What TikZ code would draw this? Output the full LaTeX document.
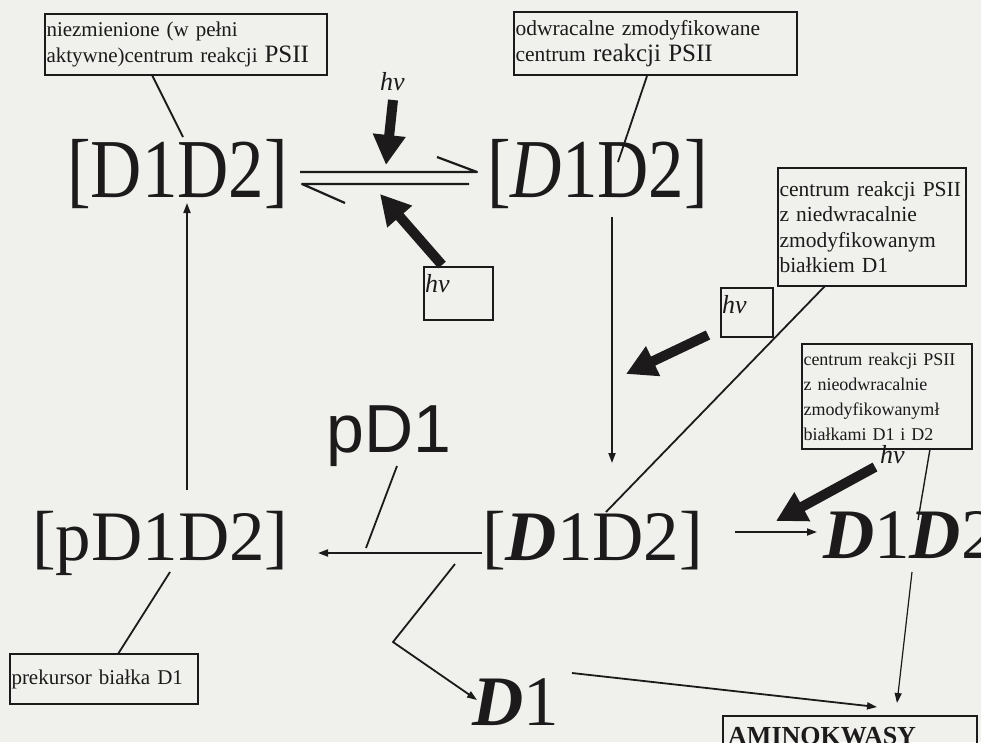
\documentclass[tikz,border=0pt]{standalone}
\usepackage{fontspec}
\setmainfont{Liberation Serif}
\newfontfamily\sansf{Liberation Sans}
\usetikzlibrary{arrows.meta}
\definecolor{paper}{RGB}{240,240,237}
\definecolor{ink}{RGB}{28,26,26}
\newcommand{\bigf}{\fontsize{71}{71}\selectfont}
\newcommand{\bi}[1]{\textbf{\textit{#1}}}
\begin{document}
\begin{tikzpicture}[x=1pt,y=-1pt,
  thinline/.style={draw=ink, line width=1.8pt, line join=round},
  thinarrow/.style={thinline, -{Triangle[length=10pt,width=7pt]}},
  fatarrow/.style={draw=ink, line width=10pt, -{Triangle[length=30pt,width=31pt]}},
  framebox/.style={draw=ink, line width=1.8pt, inner xsep=1pt, inner ysep=0pt, align=left, text=ink},
  formula/.style={anchor=base west, inner sep=0pt, text=ink},
  hvlabel/.style={anchor=base west, inner sep=0pt, text=ink, font=\fontsize{26}{26}\selectfont\itshape}
]
\useasboundingbox[fill=paper] (0,0) rectangle (981,742);

% ---------- label boxes ----------
\node[framebox, minimum width=282pt, minimum height=61pt, text width=279pt,
      font=\fontsize{21}{26}\selectfont] (b1) at (186,44.5)
  {niezmienione (w pełni\\aktywne)centrum reakcji {\fontsize{25}{26}\selectfont PSII}};
\node[framebox, minimum width=283pt, minimum height=63pt, text width=280pt,
      font=\fontsize{21.5}{26}\selectfont] (b2) at (655.5,43.5)
  {odwracalne zmodyfikowane\\centrum {\fontsize{25}{26}\selectfont reakcji PSII}};
\node[framebox, minimum width=188pt, minimum height=118pt, text width=185pt,
      font=\fontsize{21.5}{25.5}\selectfont] (b3) at (872,227)
  {centrum reakcji PSII\\z niedwracalnie\\zmodyfikowanym\\białkiem D1};
\node[framebox, minimum width=170pt, minimum height=105pt, text width=167pt,
      font=\fontsize{18}{25}\selectfont] (b4) at (887,396.5)
  {centrum reakcji PSII\\z nieodwracalnie\\zmodyfikowanymł\\białkami D1 i D2};
\node[framebox, minimum width=188pt, minimum height=50pt, text width=185pt,
      font=\fontsize{21}{25}\selectfont] (b5) at (104,679)
  {prekursor białka D1};
\node[draw=ink, line width=1.8pt, minimum width=254pt, minimum height=50pt, inner sep=0pt] (b6) at (850,741) {};
\node[formula, font=\fontsize{26}{26}\selectfont\bfseries] (amino) at (728,744) {AMINOKWASY};

% hv boxes
\node[draw=ink, line width=1.6pt, minimum width=69pt, minimum height=53pt, inner sep=0pt] (hvb1) at (458.5,293.5) {};
\node[hvlabel] (hv2) at (425,292) {hv};
\node[draw=ink, line width=1.6pt, minimum width=52pt, minimum height=49pt, inner sep=0pt] (hvb2) at (747,312.5) {};
\node[hvlabel] (hv3) at (722,313) {hv};
\node[hvlabel] (hv1) at (380,90) {hv};
\node[hvlabel] (hv4) at (880,463) {hv};

% ---------- formulas ----------
\node[formula, font=\bigf] (f1) at (67,197) {\scalebox{1}[1.18]{[D1D2]}};
\node[formula, font=\bigf] (f2) at (487,197) {\scalebox{1}[1.18]{[\textit{D}1D2]}};
\node[formula, font=\fontsize{68}{68}\selectfont\sansf] (pd1) at (326,452) {pD1};
\node[formula, font=\bigf] (f3) at (32,560) {[pD1D2]};
\node[formula, font=\bigf] (f4) at (482,560) {[\bi{D}1D2]};
\node[formula, font=\bigf] (f5) at (823,558) {\bi{D}1\bi{D}2};
\node[formula, font=\bigf] (f6) at (472,725) {\bi{D}1};

% ---------- connector end points ----------
\coordinate (c1a) at (152,75);   \coordinate (c1b) at (183,137);
\coordinate (c2a) at (647,76);   \coordinate (c2b) at (618,162);
\coordinate (c3a) at (825,286);  \coordinate (c3b) at (606,512);
\coordinate (c4a) at (930,449);  \coordinate (c4b) at (918,520);
\coordinate (c5a) at (118,654);  \coordinate (c5b) at (170,572);
\coordinate (eqa) at (300,172);  \coordinate (eqb) at (477,172); \coordinate (eqc) at (437,157);
\coordinate (eqd) at (469,184);  \coordinate (eqe) at (302,184); \coordinate (eqf) at (345,203);
\coordinate (v1a) at (187,490);  \coordinate (v1b) at (187,203);
\coordinate (v2a) at (612,217);  \coordinate (v2b) at (612,463);
\coordinate (h1a) at (482,553);  \coordinate (h1b) at (318,553);
\coordinate (p1a) at (397,466);  \coordinate (p1b) at (366,548);
\coordinate (k1a) at (455,564);  \coordinate (k1b) at (393,642); \coordinate (k1c) at (477,700);
\coordinate (d1a) at (572,673);  \coordinate (d1b) at (877,707);
\coordinate (d2a) at (912,572);  \coordinate (d2b) at (897,703);
\coordinate (r1a) at (735,532);  \coordinate (r1b) at (817,532);
\coordinate (fa1) at (393,100);  \coordinate (fb1) at (386,165);
\coordinate (fa2) at (442,265);  \coordinate (fb2) at (380,194);
\coordinate (fa3) at (708,335);  \coordinate (fb3) at (626,374);
\coordinate (fa4) at (875,467);  \coordinate (fb4) at (776,521);

% ---------- leader lines ----------
\draw[thinline] (c1a) -- (c1b);
\draw[thinline] (c2a) -- (c2b);
\draw[thinline] (c3a) -- (c3b);
\draw[thinline, line width=1.4pt] (c4a) -- (c4b);
\draw[thinline] (c5a) -- (c5b);
\draw[thinline] (p1a) -- (p1b);

% ---------- equilibrium ----------
\draw[thinline, line width=2.2pt] (eqa) -- (eqb) -- (eqc);
\draw[thinline, line width=2.2pt] (eqd) -- (eqe) -- (eqf);

% ---------- reaction arrows ----------
\draw[thinarrow] (v1a) -- (v1b);
\draw[thinarrow] (v2a) -- (v2b);
\draw[thinarrow] (h1a) -- (h1b);
\draw[thinarrow] (k1a) -- (k1b) -- (k1c);
\draw[thinarrow] (d1a) -- (d1b);
\draw[thinarrow, line width=1.2pt] (d2a) -- (d2b);
\draw[thinarrow] (r1a) -- (r1b);

% ---------- light arrows ----------
\draw[fatarrow] (fa1) -- (fb1);
\draw[fatarrow] (fa2) -- (fb2);
\draw[fatarrow] (fa3) -- (fb3);
\draw[fatarrow] (fa4) -- (fb4);
\end{tikzpicture}
\end{document}
